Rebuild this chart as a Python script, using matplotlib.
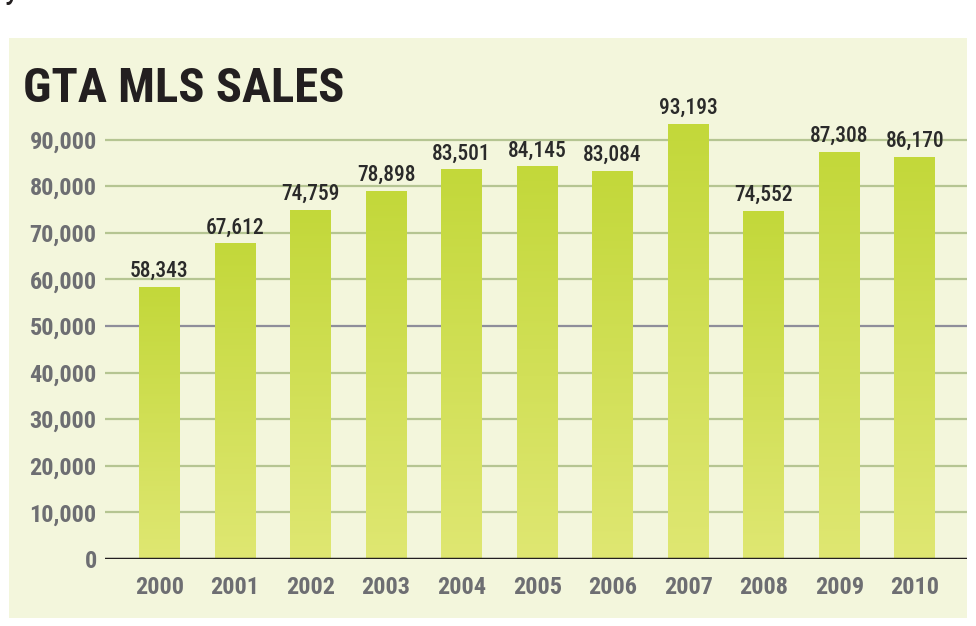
import matplotlib
matplotlib.use("Agg")
import matplotlib.pyplot as plt
import numpy as np
from matplotlib.patches import Rectangle
from matplotlib.colors import LinearSegmentedColormap

years = ["2000", "2001", "2002", "2003", "2004", "2005", "2006", "2007", "2008", "2009", "2010"]
sales = [58343, 67612, 74759, 78898, 83501, 84145, 83084, 93193, 74552, 87308, 86170]
yticks = [0, 10000, 20000, 30000, 40000, 50000, 60000, 70000, 80000, 90000]
ytick_labels = ["0", "10,000", "20,000", "30,000", "40,000", "50,000", "60,000", "70,000", "80,000", "90,000"]
title = "GTA MLS SALES"

W, H = 976, 626
fig = plt.figure(figsize=(W / 100, H / 100), dpi=100)
fig.patch.set_facecolor("white")

FONT = ["Roboto Condensed", "Liberation Sans", "DejaVu Sans"]

def px(x, y):
    return x / W, 1 - y / H

# panel
fig.patches.append(Rectangle(px(9, 618), 958 / W, 580 / H, transform=fig.transFigure,
                             facecolor="#f3f6dc", edgecolor="none", zorder=-5))

# cropped glyph at top-left
fig.text(*px(4, -3), "y", fontsize=26, family=FONT, color="#231f20", va="baseline", ha="left")

# title
t = fig.text(*px(23, 102), title, fontsize=35, family=FONT, fontweight="bold",
             color="#231f20", va="baseline", ha="left")
t.set_fontstretch("condensed")

left, right, top, bottom = 105, 967, 38, 559
ax = fig.add_axes([left / W, (H - bottom) / H, (right - left) / W, (bottom - top) / H])
ax.set_facecolor("none")
ppt = 46.6 / 10000  # pixels per unit
ymax = (bottom - top) / ppt
x = np.arange(len(years))

for s in ax.spines.values():
    s.set_visible(False)

# gridlines
for tk in yticks[1:]:
    c = "#8e8e9a" if tk == 50000 else "#b5c592"
    ax.axhline(tk, color=c, lw=1.6, zorder=1)

cmap = LinearSegmentedColormap.from_list("g", ["#dfe772", "#c3d83a"])
grad = np.linspace(0, 1, 256).reshape(-1, 1)
bw = 0.54
bars = ax.bar(x, sales, width=bw, color="none", zorder=2)
for b, v in zip(bars, sales):
    ax.imshow(grad, cmap=cmap, origin="lower", aspect="auto",
              extent=(b.get_x(), b.get_x() + bw, 0, v), zorder=2)
    ax.annotate(f"{v:,}", (b.get_x() + bw / 2, v), xytext=(0, 4), textcoords="offset points",
                ha="center", va="bottom", fontsize=15.5, family=FONT, fontweight="medium",
                color="#2a2a2a")
ax.set_xlim(-0.72, 10.69)
ax.set_ylim(0, ymax)

ax.axhline(0, color="#231f20", lw=2.5, zorder=3)

ax.set_yticks(yticks)
ax.set_yticklabels(ytick_labels)
ax.set_xticks(x)
ax.set_xticklabels(years)
ax.tick_params(axis="both", length=0)
ax.tick_params(axis="y", pad=6)
ax.tick_params(axis="x", pad=12)
for lab in ax.get_yticklabels() + ax.get_xticklabels():
    lab.set_family(FONT)
    lab.set_fontweight("bold")
    lab.set_fontsize(17.5)
    lab.set_color("#6d6e72")

fig.savefig("out.png", dpi=100, facecolor="white")
